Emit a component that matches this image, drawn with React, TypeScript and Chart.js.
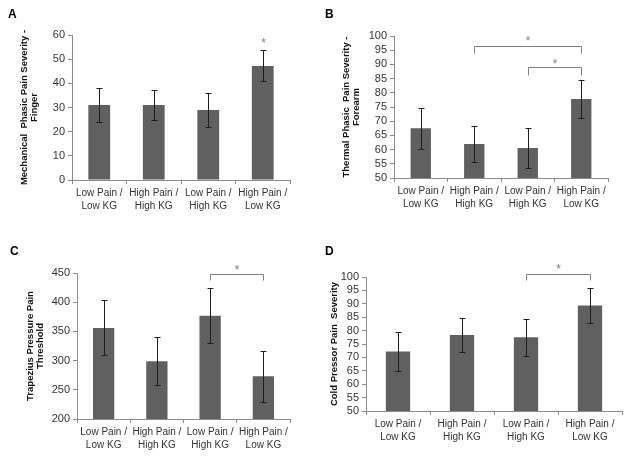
import React, { useEffect, useRef } from 'react';
import { Chart, registerables } from 'chart.js';
Chart.register(...registerables);

const categories = [
  ['Low Pain /', 'Low KG'],
  ['High Pain /', 'High KG'],
  ['Low Pain /', 'High KG'],
  ['High Pain /', 'Low KG'],
];

const valuesA = [31, 31, 29, 47.2];
const errorsA = [7.2, 6.2, 7, 6.4];
const valuesB = [67.5, 62, 60.6, 77.8];
const errorsB = [7.2, 6.3, 7, 6.6];
const valuesC = [356, 299, 377, 273];
const errorsC = [47, 41.5, 47, 43.5];
const valuesD = [72.2, 78.4, 77.5, 89.4];
const errorsD = [7.1, 6.3, 7, 6.5];

const titleA = ['Mechanical  Phasic Pain Severity -', 'Finger'];
const titleB = ['Thermal Phasic  Pain Severity -', 'Forearm'];
const titleC = ['Trapezius Pressure Pain', 'Threshold'];
const titleD = 'Cold Pressor Pain  Severity';

const scaleA = { min: 0, max: 60, step: 10 };
const scaleB = { min: 50, max: 100, step: 5 };
const scaleC = { min: 200, max: 450, step: 50 };
const scaleD = { min: 50, max: 100, step: 5 };

// significance markers: from/to category index, bracket level, tip level, star level
const sigA = [{ from: 3, to: 3, level: null, tip: null, star: 58 }];
const sigB = [
  { from: 1, to: 3, level: 96.6, tip: 94.1, star: 99.6 },
  { from: 2, to: 3, level: 89.1, tip: 86.4, star: 91.2 },
];
const sigC = [{ from: 2, to: 3, level: 448, tip: 438, star: 461 }];
const sigD = [{ from: 2, to: 3, level: 101.3, tip: 98.8, star: 104.2 }];

const FONT = '"Liberation Sans", Arial, sans-serif';

const annotPlugin = {
  id: 'annot',
  afterDatasetsDraw(chart: any, _args: any, opts: any) {
    const ctx = chart.ctx;
    const xs = chart.scales.x;
    const ys = chart.scales.y;
    const ds = chart.data.datasets[0];
    const errs: number[] = opts.errors || [];
    ctx.save();
    // error bars
    ctx.strokeStyle = '#1e1e1e';
    ctx.lineWidth = 1;
    ds.data.forEach((v: number, i: number) => {
      const px = Math.round(xs.getPixelForValue(i)) + 0.5;
      const top = Math.round(ys.getPixelForValue(v + errs[i])) + 0.5;
      const bot = Math.round(ys.getPixelForValue(v - errs[i])) + 0.5;
      ctx.beginPath();
      ctx.moveTo(px, top);
      ctx.lineTo(px, bot);
      ctx.moveTo(px - 3, top);
      ctx.lineTo(px + 3, top);
      ctx.moveTo(px - 3, bot);
      ctx.lineTo(px + 3, bot);
      ctx.stroke();
    });
    // brackets and stars
    ctx.strokeStyle = '#808080';
    ctx.fillStyle = '#8a8a8a';
    (opts.sig || []).forEach((s: any) => {
      const x1 = Math.round(xs.getPixelForValue(s.from)) + 0.5;
      const x2 = Math.round(xs.getPixelForValue(s.to)) + 0.5;
      if (s.level !== null) {
        const yl = Math.round(ys.getPixelForValue(s.level)) + 0.5;
        const yt = Math.round(ys.getPixelForValue(s.tip)) + 0.5;
        ctx.beginPath();
        ctx.moveTo(x1, yt);
        ctx.lineTo(x1, yl);
        ctx.lineTo(x2, yl);
        ctx.lineTo(x2, yt);
        ctx.stroke();
      }
      const sy = ys.getPixelForValue(s.star);
      ctx.font = '13px ' + FONT;
      ctx.textAlign = 'center';
      ctx.textBaseline = 'alphabetic';
      ctx.fillText('*', (x1 + x2) / 2, sy + 7.5);
    });
    // panel letter
    ctx.fillStyle = '#000';
    ctx.font = 'bold 12px ' + FONT;
    ctx.textAlign = 'left';
    ctx.textBaseline = 'alphabetic';
    ctx.fillText(opts.letter, opts.letterX, opts.letterY);
    ctx.restore();
  },
};

type Panel = {
  left: number; top: number; w: number; h: number;
  values: number[]; errors: number[]; title: any; scale: any; sig: any[];
  letter: string; letterX: number; letterY: number;
  yW: number; xH: number; padT: number; padR: number; titlePad: number; barPct: number;
};

const panels: Panel[] = [
  { left: 0, top: 0, w: 314, h: 228, values: valuesA, errors: errorsA, title: titleA, scale: scaleA, sig: sigA,
    letter: 'A', letterX: 8, letterY: 18, yW: 72, xH: 48, padT: 35, padR: 24, titlePad: 19, barPct: 0.4 },
  { left: 315, top: 0, w: 314, h: 228, values: valuesB, errors: errorsB, title: titleB, scale: scaleB, sig: sigB,
    letter: 'B', letterX: 10, letterY: 18, yW: 79, xH: 50, padT: 36, padR: 21, titlePad: 26, barPct: 0.38 },
  { left: 0, top: 228, w: 314, h: 229, values: valuesC, errors: errorsC, title: titleC, scale: scaleC, sig: sigC,
    letter: 'C', letterX: 10, letterY: 27, yW: 77, xH: 38, padT: 45, padR: 24, titlePad: 25, barPct: 0.4 },
  { left: 315, top: 228, w: 314, h: 229, values: valuesD, errors: errorsD, title: titleD, scale: scaleD, sig: sigD,
    letter: 'D', letterX: 10, letterY: 27, yW: 51, xH: 46, padT: 49, padR: 7, titlePad: 14, barPct: 0.38 },
];

function PanelChart({ p }: { p: Panel }) {
  const ref = useRef<HTMLCanvasElement | null>(null);
  useEffect(() => {
    if (!ref.current) return;
    const chart = new Chart(ref.current, {
      type: 'bar',
      data: {
        labels: categories,
        datasets: [{
          data: p.values,
          backgroundColor: '#606060',
          borderWidth: 0,
          barPercentage: p.barPct,
          categoryPercentage: 1,
        }],
      },
      plugins: [annotPlugin as any],
      options: {
        animation: false,
        responsive: false,
        maintainAspectRatio: false,
        layout: { padding: { left: 0, top: p.padT, right: p.padR, bottom: 0 } },
        plugins: {
          legend: { display: false },
          tooltip: { enabled: false },
          annot: { errors: p.errors, sig: p.sig, letter: p.letter, letterX: p.letterX, letterY: p.letterY },
        } as any,
        scales: {
          x: {
            afterFit: (s: any) => { s.height = p.xH; },
            grid: { display: true, drawOnChartArea: false, drawTicks: true, tickLength: 4, color: '#8c8c8c', offset: true },
            border: { display: true, color: '#8c8c8c' },
            ticks: { color: '#333', font: { family: FONT, size: 10, lineHeight: 1.3 }, padding: 3, maxRotation: 0, autoSkip: false },
          },
          y: {
            min: p.scale.min,
            max: p.scale.max,
            afterFit: (s: any) => { s.width = p.yW; },
            grid: { display: true, drawOnChartArea: false, drawTicks: true, tickLength: 4, color: '#8c8c8c' },
            border: { display: true, color: '#8c8c8c' },
            ticks: { stepSize: p.scale.step, autoSkip: false, color: '#333', font: { family: FONT, size: 11 }, padding: 3 },
            title: {
              display: true,
              text: p.title,
              color: '#111',
              font: { family: FONT, size: 9.5, weight: 'bold', lineHeight: 1.1 },
              padding: { top: p.titlePad, bottom: 0 },
            },
          },
        },
      } as any,
    });
    return () => chart.destroy();
  }, [p]);
  return (
    <canvas
      ref={ref}
      width={p.w}
      height={p.h}
      style={{ position: 'absolute', left: p.left, top: p.top, width: p.w, height: p.h }}
    />
  );
}

export default function App() {
  return (
    <div style={{ position: 'absolute', left: 0, top: 0, width: 629, height: 457, background: '#fff', overflow: 'hidden' }}>
      {panels.map((p) => (
        <PanelChart key={p.letter} p={p} />
      ))}
    </div>
  );
}
